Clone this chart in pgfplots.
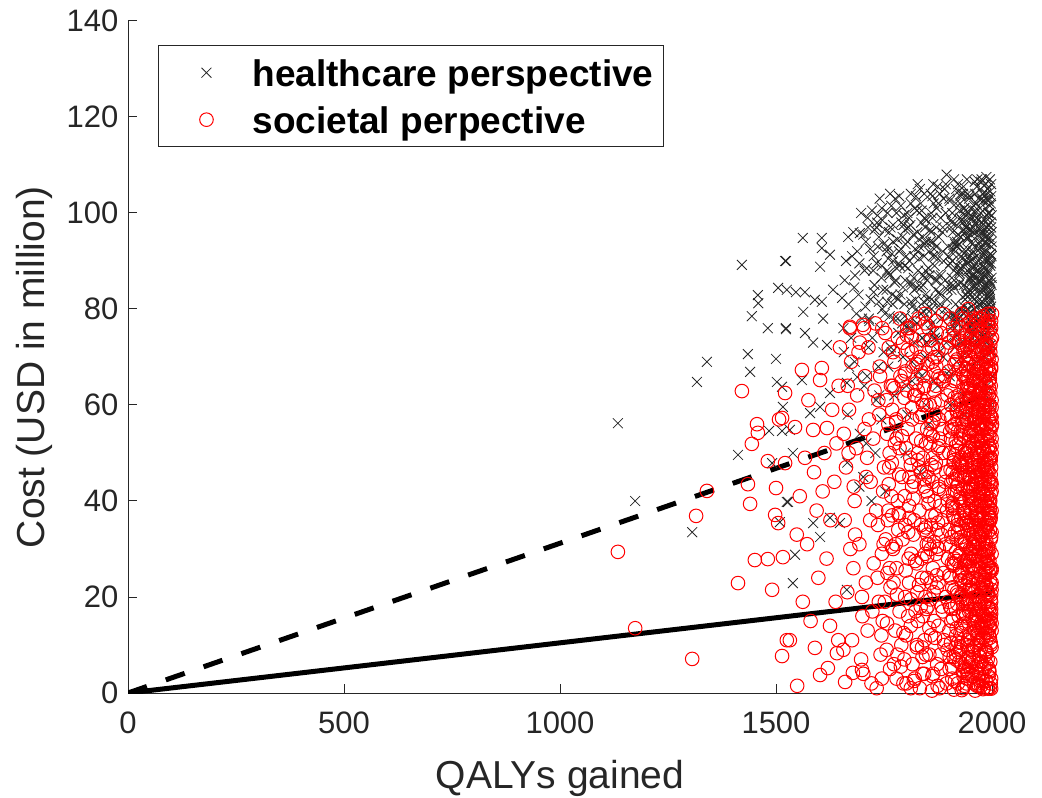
\documentclass[border=0pt]{standalone}
\usepackage{pgfplots}
\pgfplotsset{compat=1.18}
\usepackage{fontspec}
\setmainfont{Liberation Sans}
\definecolor{mgray}{RGB}{38,38,38}
\begin{document}
\begin{tikzpicture}
\begin{axis}[
  at={(64pt,52pt)}, anchor=south west,
  scale only axis, width=432pt, height=336pt,
  xmin=0, xmax=2000, ymin=0, ymax=140,
  xtick={0,500,1000,1500,2000}, ytick={0,20,40,60,80,100,120,140},
  axis x line*=bottom, axis y line*=left,
  axis line style={-, mgray, line width=0.5pt},
  tick align=inside, major tick length=4.3pt,
  tick style={mgray, line width=0.5pt},
  /pgf/number format/assume math mode=true,
  /pgf/number format/1000 sep={},
  tick label style={font=\fontsize{15.5}{18}\selectfont, text=mgray},
  xticklabel shift=5.8pt, yticklabel shift=1.3pt,
  xlabel={QALYs gained}, ylabel={Cost (USD in million)},
  label style={font=\fontsize{19.5}{23}\selectfont, text=mgray},
  xlabel style={at={(axis description cs:0.5,-0.1414)}, anchor=base},
  ylabel style={at={(axis description cs:-0.0961,0.485)}, anchor=base},
  legend cell align=left,
  legend image code/.code={\path[draw=none, fill=none] (0pt,0pt) -- (42pt,0pt); \draw[#1] plot coordinates {(19pt,0pt)};},
  legend style={at={(axis description cs:0.0347,0.964)}, anchor=north west,
    draw=mgray, line width=0.5pt, fill=white,
    inner xsep=5pt, inner ysep=2.5pt, row sep=1.5pt,
    nodes={inner sep=0pt, text height=18pt, text depth=4pt},
    font=\fontsize{18.5}{22}\selectfont\bfseries},
]
% healthcare perspective
\addplot[only marks, mark=x, mark size=3.5pt, black, mark options={line width=0.4pt, black!85}] coordinates {
(1421,89.2)(1521,90)(1505,84.4)(1458,82.9)(1459,81.2)(1444,78.5)(1481,76)(1523,75.8)(1340,69)(1435,70.6)(1500,69.6)(1317,64.8)(1440,66.9)(1502,64.8)(1514,63.8)(1134,56.2)(1484,54.6)(1514,54.6)(1412,49.6)(1491,47.9)(1174,40)(1306,33.5)(1525,39.8)(1509,35.6)
(1562,94.8)(1606,94.8)(1523,90)(1606,92.7)(1602,88.8)(1625,91.3)(1667,95)(1694,95.8)(1713,97)(1734,98)(1525,84)(1546,83.5)(1567,83.5)(1563,79.4)(1523,76)(1567,75)(1590,81.9)(1606,81.5)(1609,78)(1632,84)(1653,82.3)(1586,73)(1618,72.5)
(1539,50)(1528,39.8)(1544,28.8)(1539,22.9)(1586,35.4)(1602,32.5)(1625,36.5)(1648,35.4)(1664,21.5)
(1516,59.6)(1560,65.2)(1532,54.8)(1579,58.3)(1602,59.6)(1625,62.5)(1664,64.6)(1688,65.8)
(1745,101)(1712,99)(1679,96)(1736,93)(1662,90)(1705,88)(1728,85)(1691,83)(1746,80)(1699,78)
(1656,76)(1723,74)(1749,71)(1682,69)(1711,66)(1739,62)(1666,58)(1694,54)(1730,50)(1702,45)
(1733,97)(1676,91)(1708,94)(1745,89)(1659,86)(1719,82)(1686,79)(1741,76)(1714,72)(1669,68)
(1697,100)(1738,95)(1726,91)(1683,87)(1748,84)(1668,81)(1715,78)(1737,68)(1674,74)(1704,64)
(1721,40)(1744,57)(1665,48)(1693,43)(1732,61)(1709,52)(1657,71)(1740,103)(1688,92)(1725,88)
(1702,95.5)(1718,92.5)(1735,99.5)(1752,96.5)(1767,101.5)(1781,94.5)(1796,99.5)(1710,88.5)(1726,83.5)(1744,86.5)
(1760,90.5)(1775,85.5)(1789,92.5)(1693,89.5)(1681,84.5)(1728,96.5)(1757,81.5)(1771,97.5)(1785,103.5)(1799,96.5)
(1707,80.5)(1722,100.5)(1738,81.5)(1749,93.5)(1763,78.5)(1779,88.5)(1794,84.5)(1716,77.5)(1733,89.5)(1746,98.5)
(1811,97.5)(1824,103.5)(1837,100.5)(1806,88.5)(1819,86.5)(1832,90.5)(1845,93.5)(1813,81.5)(1827,84.5)(1842,81.5)
(1843,104)(1812,102)(1779,100)(1836,98)(1762,96)(1805,94)(1828,92)(1771,90)(1846,88)(1799,86)
(1756,84)(1823,82)(1849,80)(1782,78)(1811,76)(1839,74)(1766,72)(1794,70)(1830,67)(1802,64)
(1833,105)(1776,103)(1808,99)(1845,97)(1759,93)(1819,91)(1786,89)(1841,87)(1814,85)(1769,83)
(1797,81)(1752,79)(1826,77)(1783,75)(1848,73)(1768,71)(1815,69)(1837,66)(1774,62)(1804,58)
(1821,101)(1844,99)(1765,97)(1793,95)(1832,93)(1809,90)(1757,88)(1840,85)(1788,83)(1825,80)
(1773,78)(1806,76)(1838,74)(1760,68)(1815,65)(1847,60)(1778,55)(1800,50)(1834,46)(1753,42)
(1847,94)(1790,98)(1827,96)(1771,94)(1843,91)(1798,89)(1763,87)(1820,84)(1782,82)(1835,79)
(1812,104)(1835,102)(1758,100)(1807,97)(1785,92)(1829,88)(1850,86)(1770,81)(1816,78)(1845,70)
(1764,104)(1801,91)(1846,83)(1777,86)(1820,73)(1792,77)(1840,95)(1756,92)(1804,100)(1828,106)
(1942,107)(1917,105)(1888,103)(1936,101)(1862,99)(1905,97)(1928,95)(1871,93)(1946,91)(1899,89)
(1855,87)(1923,85)(1949,83)(1880,81)(1911,79)(1939,77)(1866,75)(1894,73)(1930,70)(1902,66)
(1933,104)(1876,102)(1908,100)(1945,98)(1859,96)(1919,94)(1886,92)(1941,90)(1912,88)(1869,86)
(1897,84)(1851,82)(1926,80)(1883,78)(1948,76)(1868,74)(1914,72)(1937,68)(1874,64)(1903,60)
(1921,106)(1944,104)(1865,102)(1893,100)(1932,98)(1909,96)(1857,94)(1940,92)(1888,90)(1925,88)
(1873,86)(1906,84)(1938,82)(1860,80)(1915,78)(1947,75)(1878,71)(1900,67)(1934,62)(1853,56)
(1947,103)(1890,105)(1927,99)(1871,97)(1943,95)(1898,93)(1863,91)(1920,89)(1882,87)(1935,85)
(1912,107)(1935,101)(1858,104)(1907,98)(1885,96)(1929,91)(1950,88)(1870,84)(1916,81)(1945,79)
(1864,106)(1901,103)(1946,100)(1877,95)(1920,93)(1892,86)(1940,83)(1856,78)(1904,76)(1928,73)
(1939,97)(1881,99)(1913,94)(1950,90)(1867,89)(1924,87)(1896,82)(1944,80)(1861,77)(1910,74)
(1895,108)(1928,104)(1872,101)(1937,96)(1854,92)(1908,90)(1949,86)(1879,83)(1922,78)(1887,70)
(1926,102)(1949,99)(1886,97)(1918,93)(1869,91)(1943,88)(1901,85)(1860,82)(1935,79)(1914,76)
(1879,104)(1916,102)(1940,97)(1863,94)(1899,91)(1932,89)(1875,87)(1948,84)(1891,80)(1921,77)
(1944,95)(1859,100)(1893,106)(1931,92)(1910,85)(1877,80)(1947,73)(1918,69)(1865,65)(1938,58)
(1998,106)(1987,104)(1964,102)(1993,100)(1975,98)(1956,96)(1999,94)(1982,92)(1969,90)(1991,88)
(1971,86)(1995,84)(1958,82)(1984,80)(1997,78)(1962,76)(1979,74)(2000,71)(1953,68)(1988,64)
(1966,107)(1990,105)(1977,103)(1951,101)(1994,99)(1973,97)(1985,95)(1960,93)(1999,91)(1968,89)
(1981,87)(1957,85)(1996,83)(1970,81)(1989,79)(1954,77)(1976,75)(1992,72)(1963,69)(1998,60)
(1986,106)(1961,104)(1974,100)(1997,98)(1952,94)(1983,92)(1967,88)(1994,86)(1978,84)(1959,80)
(1993,103)(1972,101)(1955,99)(1988,97)(1999,96)(1965,91)(1980,89)(1957,87)(1991,83)(1970,78)
(1976,107)(1997,102)(1962,98)(1984,94)(1950,90)(1973,86)(1995,82)(1968,79)(1986,76)(1955,73)
(1990,105)(1966,99)(1979,96)(1999,93)(1958,89)(1987,85)(1971,82)(1996,80)(1953,75)(1982,70)
(1961,100)(1985,101)(1998,97)(1975,93)(1952,87)(1992,90)(1969,84)(1983,77)(1964,73)(2000,66)
(1978,104)(1994,95)(1956,92)(1971,94)(1989,87)(1960,84)(1999,85)(1977,81)(1993,74)(1967,56)
(1995,107)(1973,105)(1988,103)(1963,96)(1980,91)(1996,89)(1954,86)(1972,83)(1998,79)(1984,62)
(1969,103)(1991,100)(1957,97)(1985,90)(1966,88)(1979,86)(1993,81)(1959,78)(1987,73)(1975,65)
(1996,104.5)(1958,101.5)(1983,98.5)(1921,95.5)(1972,92.5)(1993,89.5)(1907,86.5)(1946,83.5)(1988,80.5)(1964,77.5)
(1934,105.5)(1979,102.5)(1999,99.5)(1952,96.5)(1915,93.5)(1986,90.5)(1968,87.5)(1941,84.5)(1995,81.5)(1899,78.5)
(1975,106.5)(1927,103.5)(1961,100.5)(1990,97.5)(1943,94.5)(1910,91.5)(1982,88.5)(1997,85.5)(1955,82.5)(1930,79.5)
(1902,102.5)(1989,99.5)(1948,96.5)(1970,93.5)(1994,90.5)(1924,87.5)(1959,84.5)(1978,81.5)(1913,78.5)(1991,75.5)
(1965,105.5)(1938,100.5)(1992,94.5)(1918,97.5)(1981,91.5)(1956,88.5)(1999,86.5)(1932,82.5)(1973,79.5)(1950,76.5)
(1987,107.5)(1905,98.5)(1969,95.5)(1944,92.5)(1998,89.5)(1926,85.5)(1976,83.5)(1953,80.5)(1985,77.5)(1919,74.5)
(1947,103.5)(1995,101.5)(1931,98.5)(1977,95.5)(1957,90.5)(1990,87.5)(1912,84.5)(1966,81.5)(1940,78.5)(1997,72.5)
(1922,104.5)(1962,97.5)(1986,93.5)(1903,89.5)(1949,86.5)(1980,84.5)(1935,80.5)(1999,76.5)(1958,74.5)(1974,71.5)
(1991,102.5)(1939,99.5)(1973,96.5)(1954,91.5)(1928,88.5)(1995,83.5)(1967,80.5)(1916,77.5)(1983,73.5)(1945,70.5)
(1960,106.5)(1998,103.5)(1925,100.5)(1984,96.5)(1909,92.5)(1971,90.5)(1951,86.5)(1993,82.5)(1937,79.5)(1979,74.5)
(1862,103.5)(1795,97.5)(1831,94.5)(1768,91.5)(1853,88.5)(1812,85.5)(1778,82.5)(1842,79.5)(1805,76.5)(1870,73.5)
(1789,101.5)(1848,98.5)(1822,92.5)(1875,90.5)(1761,87.5)(1836,84.5)(1867,81.5)(1798,78.5)(1858,75.5)(1818,95.5)
(1874,105.5)(1826,100.5)(1857,96.5)(1800,93.5)(1866,92.5)(1784,89.5)(1844,86.5)(1878,83.5)(1815,80.5)(1851,77.5)
(1982,95.5)(1954,93.5)(1996,91.5)(1931,90.5)(1970,85.5)(1990,84.5)(1943,82.5)(1985,79.5)(1960,78.5)(1998,80.5)
(1968,98.5)(1935,96.5)(1992,93.5)(1950,95.5)(1979,87.5)(1923,93.5)(1997,91.5)(1963,86.5)(1941,89.5)(1988,85.5)
};
\addlegendentry{healthcare perspective}
% societal perspective
\addplot[only marks, mark=o, mark size=3.4pt, red, mark options={line width=0.5pt, red}] coordinates {
(1421,62.9)(1521,62.5)(1507,57)(1456,56)(1458,54.2)(1444,51.9)(1481,48.3)(1521,47.9)(1340,42.1)(1435,43.5)(1500,42.7)(1440,39.4)(1315,36.9)(1498,37.1)(1505,35.4)(1134,29.4)(1451,27.7)(1481,27.9)(1516,28.3)(1412,22.9)(1491,21.5)(1174,13.5)(1306,7.1)(1514,7.7)(1525,11)
(1560,67.3)(1606,67.7)(1602,65.2)(1514,57.3)(1544,55.4)(1586,54.8)(1618,55.2)(1549,1.5)(1532,11)(1590,9.4)(1602,3.75)(1620,5.2)(1641,8.3)(1644,11)(1648,72)(1671,76.3)(1701,76.7)(1660,2.3)(1678,4.2)(1699,4.8)
(1555,41)(1572,31)(1588,46)(1598,24)(1626,36)(1612,50)(1638,19)(1562,19)(1580,15)(1635,44)(1617,28)(1548,33)(1594,38)(1630,59)(1575,61)(1645,64)(1625,14)(1567,49)(1608,42)(1640,52)
(1745,3)(1712,13)(1679,26)(1736,35)(1662,47)(1705,55)(1728,63)(1691,71)(1746,76)(1699,20)
(1656,9)(1723,17)(1749,31)(1682,40)(1711,49)(1739,58)(1666,64)(1694,73)(1730,77)(1702,4)
(1733,1)(1676,11)(1708,23)(1745,29)(1659,36)(1719,44)(1686,51)(1741,66)(1714,72)(1669,59)
(1697,7)(1738,19)(1726,27)(1683,33)(1748,42)(1668,50)(1715,57)(1737,61)(1674,69)(1704,76)
(1721,2)(1744,12)(1665,21)(1693,31)(1732,38)(1709,45)(1657,54)(1740,68)(1688,62)(1725,53)
(1742,8)(1700,16)(1672,30)(1718,36)(1750,47)(1680,43)(1735,24)(1706,66)(1671,76)(1747,15)
(1843,4)(1812,14)(1779,26)(1836,35)(1762,47)(1805,55)(1828,63)(1771,71)(1846,77)(1799,20)
(1756,9)(1823,17)(1849,31)(1782,40)(1811,49)(1839,58)(1766,64)(1794,73)(1830,78)(1802,2)
(1833,1)(1776,13)(1808,23)(1845,29)(1759,36)(1819,44)(1786,51)(1841,66)(1814,74)(1769,59)
(1797,7)(1752,19)(1826,27)(1783,34)(1848,42)(1768,48)(1815,57)(1837,61)(1774,69)(1804,76)
(1821,3)(1844,11)(1765,22)(1793,32)(1832,38)(1809,45)(1757,54)(1840,60)(1788,66)(1825,72)
(1773,6)(1806,16)(1838,24)(1760,38)(1815,43)(1847,52)(1778,57)(1800,67)(1834,70)(1753,75)
(1847,8)(1790,10)(1827,21)(1771,30)(1843,34)(1798,41)(1763,50)(1820,62)(1782,74)(1835,46)
(1812,1)(1835,18)(1758,25)(1807,28)(1785,37)(1829,50)(1850,55)(1770,64)(1816,68)(1845,79)
(1764,5)(1801,12)(1846,20)(1777,31)(1820,36)(1792,45)(1840,49)(1756,61)(1804,63)(1828,69)
(1839,4)(1781,8)(1813,29)(1850,33)(1767,41)(1824,53)(1796,58)(1844,64)(1761,72)(1810,76)
(1795,2)(1828,15)(1772,23)(1837,28)(1754,32)(1808,39)(1849,46)(1779,53)(1822,62)(1787,78)
(1826,10)(1786,17)(1818,33)(1769,37)(1843,43)(1801,51)(1760,56)(1835,67)(1814,71)(1849,24)
(1779,3)(1816,6)(1840,16)(1763,26)(1799,35)(1832,47)(1775,52)(1848,60)(1791,65)(1821,77)
(1862,3.5)(1795,12.5)(1831,22.5)(1768,30.5)(1853,39.5)(1812,47.5)(1778,56.5)(1842,63.5)(1805,71.5)(1870,77.5)
(1789,5.5)(1848,17.5)(1822,27.5)(1875,35.5)(1761,43.5)(1836,52.5)(1867,60.5)(1798,66.5)(1858,73.5)(1818,40.5)
(1874,1.5)(1826,9.5)(1857,19.5)(1800,25.5)(1866,31.5)(1784,37.5)(1844,44.5)(1878,51.5)(1815,59.5)(1851,68.5)
(1757,14.5)(1839,7.5)(1806,33.5)(1872,24.5)(1828,48.5)(1792,53.5)(1864,56.5)(1841,73.5)(1774,63.5)(1879,65.5)
(1819,2.5)(1868,11.5)(1780,20.5)(1850,28.5)(1809,36.5)(1877,42.5)(1833,57.5)(1797,61.5)(1860,47.5)(1825,68.5)
(1855,13.5)(1812,19.5)(1873,30.5)(1785,45.5)(1847,34.5)(1863,53.5)(1824,64.5)(1876,71.5)(1803,74.5)(1838,9.5)
(1942,3)(1917,12)(1888,25)(1936,36)(1862,44)(1905,53)(1928,60)(1871,68)(1946,77)(1899,19)
(1855,8)(1923,16)(1949,30)(1880,39)(1911,48)(1939,57)(1866,63)(1894,72)(1930,79)(1902,5)
(1933,1)(1876,14)(1908,22)(1945,28)(1859,35)(1919,43)(1886,50)(1941,66)(1912,74)(1869,58)
(1897,9)(1851,18)(1926,26)(1883,33)(1948,41)(1868,47)(1914,56)(1937,62)(1874,70)(1903,78)
(1921,2)(1944,11)(1865,21)(1893,31)(1932,38)(1909,46)(1857,54)(1940,59)(1888,65)(1925,73)
(1873,6)(1906,15)(1938,24)(1860,37)(1915,42)(1947,51)(1878,57)(1900,67)(1934,71)(1853,76)
(1947,7)(1890,10)(1927,20)(1871,29)(1943,34)(1898,40)(1863,49)(1920,61)(1882,75)(1935,45)
(1912,0.7)(1935,17)(1858,23)(1907,27)(1885,36)(1929,49)(1950,55)(1870,64)(1916,69)(1945,80)
(1864,4)(1901,13)(1946,19)(1877,30)(1920,35)(1892,44)(1940,48)(1856,60)(1904,63)(1928,68)
(1939,5)(1881,8)(1913,28)(1950,33)(1867,40)(1924,52)(1896,58)(1944,64)(1861,72)(1910,76)
(1895,2)(1928,14)(1872,22)(1937,27)(1854,31)(1908,39)(1949,45)(1879,53)(1922,62)(1887,79)
(1926,9)(1949,22)(1886,17)(1918,32)(1869,37)(1943,42)(1901,50)(1860,56)(1935,66)(1914,71)
(1879,1)(1916,7)(1940,16)(1863,26)(1899,34)(1932,47)(1875,51)(1948,61)(1891,66)(1921,77)
(1944,4)(1859,12)(1893,20)(1931,25)(1910,37)(1877,43)(1947,54)(1918,59)(1865,67)(1938,74)
(1908,3)(1942,10)(1884,18)(1925,29)(1852,41)(1936,38)(1894,46)(1911,55)(1949,70)(1872,75)
(1930,6)(1866,15)(1904,24)(1946,35)(1889,42)(1923,48)(1857,52)(1941,57)(1897,62)(1933,78)
(1861,0.5)(1934,13)(1919,21)(1874,34)(1948,39)(1906,44)(1928,53)(1883,61)(1945,67)(1900,73)
(1917,8)(1889,11)(1950,26)(1858,30)(1927,40)(1870,48)(1939,50)(1905,60)(1876,66)(1943,72)
(1882,5)(1947,17)(1912,27)(1937,31)(1896,38)(1853,45)(1920,57)(1948,63)(1868,70)(1929,76)
(1941,2)(1903,18)(1876,23)(1922,36)(1944,43)(1885,55)(1913,65)(1862,69)(1950,74)(1898,28)
(1998,3)(1987,11)(1964,24)(1993,37)(1975,45)(1956,52)(1999,61)(1982,70)(1969,78)(1991,18)
(1971,6)(1995,14)(1958,31)(1984,40)(1997,49)(1962,57)(1979,66)(2000,74)(1953,9)(1988,27)
(1966,2)(1990,21)(1977,33)(1951,43)(1994,55)(1973,63)(1985,72)(1960,15)(1999,29)(1968,48)
(1981,1)(1957,19)(1996,26)(1970,36)(1989,47)(1954,60)(1976,68)(1992,77)(1963,39)(1998,44)
(1986,8)(1961,13)(1974,22)(1997,32)(1952,41)(1983,53)(1967,59)(1994,67)(1978,75)(1959,71)
(1993,5)(1972,17)(1955,28)(1988,35)(1999,42)(1965,50)(1980,58)(1957,65)(1991,79)(1970,30)
(1976,4)(1997,10)(1962,20)(1984,25)(1950,34)(1973,46)(1995,51)(1968,62)(1986,69)(1955,76)
(1990,7)(1966,12)(1979,23)(1999,38)(1958,47)(1987,56)(1971,64)(1996,71)(1953,73)(1982,16)
(1961,0.5)(1985,9)(1998,19)(1975,27)(1952,38)(1992,44)(1969,54)(1983,61)(1964,69)(2000,56)
(1978,3)(1994,15)(1956,24)(1971,33)(1989,39)(1960,48)(1999,53)(1977,60)(1993,65)(1967,74)
(1995,1)(1973,11)(1988,22)(1963,35)(1980,43)(1996,49)(1954,58)(1972,67)(1998,76)(1984,31)
(1969,8)(1991,18)(1957,26)(1985,30)(1966,41)(1979,52)(1993,57)(1959,63)(1987,70)(1975,78)
(1983,5)(1999,13)(1968,20)(1952,29)(1995,34)(1974,40)(1961,45)(1989,54)(1970,59)(1997,64)
(1958,2)(1976,14)(1992,25)(1965,37)(1981,47)(1999,50)(1955,55)(1984,66)(1962,72)(1990,75)
(1987,6)(1963,16)(1980,29)(1996,36)(1971,42)(1954,49)(1993,62)(1977,71)(2000,79)(1967,53)
(1997,2)(1974,9)(1958,21)(1990,28)(1982,34)(1965,44)(1998,47)(1975,56)(1951,64)(1986,73)
(1970,4)(1993,12)(1984,19)(1961,32)(1996,40)(1977,51)(1966,57)(1991,68)(1980,72)(1957,78)
(1989,1)(1956,7)(1972,18)(1999,23)(1978,38)(1963,43)(1987,48)(1995,58)(1969,65)(1983,77)
(1964,10)(1981,15)(1994,30)(1953,36)(1975,39)(1992,46)(1960,51)(1988,60)(1972,63)(1998,68)
(1979,0.8)(1997,17)(1967,23)(1985,27)(1959,46)(1976,55)(1994,60)(1966,67)(1990,72)(1999,26)
(1996,6.5)(1958,13.5)(1983,24.5)(1921,33.5)(1972,41.5)(1993,48.5)(1907,55.5)(1946,63.5)(1988,70.5)(1964,77.5)
(1934,3.5)(1979,16.5)(1999,21.5)(1952,29.5)(1915,38.5)(1986,45.5)(1968,52.5)(1941,59.5)(1995,66.5)(1899,74.5)
(1975,1.5)(1927,9.5)(1961,18.5)(1990,26.5)(1943,35.5)(1910,44.5)(1982,50.5)(1997,57.5)(1955,65.5)(1930,72.5)
(1902,7.5)(1989,12.5)(1948,23.5)(1970,31.5)(1994,39.5)(1924,47.5)(1959,54.5)(1978,61.5)(1913,68.5)(1991,76.5)
(1965,4.5)(1938,14.5)(1992,20.5)(1918,27.5)(1981,36.5)(1956,43.5)(1999,51.5)(1932,58.5)(1973,64.5)(1950,71.5)
(1987,2.5)(1905,10.5)(1969,17.5)(1944,25.5)(1998,32.5)(1926,40.5)(1976,46.5)(1953,56.5)(1985,62.5)(1919,69.5)
(1947,5.5)(1995,11.5)(1931,19.5)(1977,28.5)(1957,34.5)(1990,42.5)(1912,49.5)(1966,60.5)(1940,67.5)(1997,73.5)
(1922,8.5)(1962,15.5)(1986,22.5)(1903,30.5)(1949,37.5)(1980,41.5)(1935,53.5)(1999,59.5)(1958,66.5)(1974,75.5)
(1991,0.9)(1939,6.5)(1973,13.5)(1954,22.5)(1928,31.5)(1995,38.5)(1967,45.5)(1916,52.5)(1983,58.5)(1945,70.5)
(1960,9.5)(1998,16.5)(1925,24.5)(1984,33.5)(1909,39.5)(1971,47.5)(1951,54.5)(1993,63.5)(1937,71.5)(1979,78.5)
(1914,2.5)(1967,11.5)(1989,20.5)(1942,27.5)(1976,36.5)(1999,43.5)(1920,50.5)(1961,57.5)(1986,64.5)(1954,74.5)
(1982,5.5)(1950,12.5)(1906,17.5)(1996,25.5)(1963,33.5)(1933,42.5)(1988,49.5)(1972,55.5)(1947,61.5)(1992,69.5)
(1957,3.5)(1985,8.5)(1940,18.5)(1970,23.5)(1917,29.5)(1993,35.5)(1952,44.5)(1980,53.5)(1929,60.5)(1998,67.5)
(1936,1.5)(1974,14.5)(1997,19.5)(1911,26.5)(1959,35.5)(1987,41.5)(1944,48.5)(1968,55.5)(1990,62.5)(1923,73.5)
(1994,4.5)(1929,10.5)(1964,16.5)(1983,29.5)(1948,40.5)(1904,46.5)(1975,52.5)(1999,57.5)(1939,65.5)(1961,76.5)
(1971,7.5)(1918,13.5)(1952,21.5)(1990,30.5)(1937,37.5)(1966,43.5)(1996,54.5)(1913,61.5)(1981,68.5)(1948,72.5)
(1908,5.5)(1989,15.5)(1935,22.5)(1963,28.5)(1997,36.5)(1926,45.5)(1955,51.5)(1984,59.5)(1942,63.5)(1969,70.5)
(1978,2.5)(1945,9.5)(1999,14.5)(1921,20.5)(1953,26.5)(1986,34.5)(1910,41.5)(1967,48.5)(1995,56.5)(1932,66.5)
(1951,6.5)(1984,12.5)(1927,23.5)(1974,32.5)(1996,37.5)(1942,46.5)(1989,52.5)(1919,58.5)(1962,68.5)(1991,77.5)
(1992,3.5)(1966,10.5)(1941,19.5)(1901,24.5)(1979,31.5)(1958,39.5)(1930,47.5)(1994,53.5)(1971,60.5)(1915,65.5)
(1930,0.6)(1972,7.5)(1955,15.5)(1998,22.5)(1923,28.5)(1968,36.5)(1992,44.5)(1944,50.5)(1977,57.5)(1957,64.5)
(1999,9.5)(1940,16.5)(1985,25.5)(1914,33.5)(1962,38.5)(1936,44.5)(1981,47.5)(1905,57.5)(1995,65.5)(1973,71.5)
(1963,5.5)(1927,12.5)(1993,17.5)(1949,27.5)(1988,35.5)(1969,41.5)(1917,51.5)(1958,56.5)(1985,61.5)(1938,74.5)
(1985,2.5)(1911,7.5)(1977,21.5)(1960,30.5)(1934,39.5)(1997,45.5)(1951,49.5)(1975,63.5)(1924,67.5)(1996,72.5)
(1943,4.5)(1994,13.5)(1920,18.5)(1976,24.5)(1955,32.5)(1989,40.5)(1928,54.5)(1963,58.5)(1999,69.5)(1950,75.5)
(1969,1.5)(1956,8.5)(1987,16.5)(1938,21.5)(1994,27.5)(1912,36.5)(1974,43.5)(1947,52.5)(1983,60.5)(1966,67.5)
(1924,6.5)(1997,10.5)(1959,14.5)(1982,23.5)(1906,32.5)(1953,39.5)(1990,46.5)(1934,55.5)(1970,62.5)(1940,69.5)
(1988,8.5)(1933,4.5)(1971,19.5)(1946,26.5)(1999,33.5)(1965,37.5)(1922,43.5)(1980,50.5)(1952,59.5)(1995,75.5)
(1953,3.5)(1980,11.5)(1910,15.5)(1964,25.5)(1987,31.5)(1940,35.5)(1997,41.5)(1957,47.5)(1931,56.5)(1978,66.5)
(1998,0.9)(1946,7.5)(1967,12.5)(1929,20.5)(1992,26.5)(1973,34.5)(1908,38.5)(1984,44.5)(1962,53.5)(1941,61.5)
(1916,9.5)(1990,14.5)(1944,18.5)(1979,22.5)(1958,28.5)(1925,34.5)(1995,40.5)(1968,46.5)(1937,50.5)(1987,55.5)
(1973,2.5)(1937,5.5)(1998,17.5)(1954,21.5)(1931,25.5)(1991,29.5)(1975,33.5)(1949,42.5)(1912,48.5)(1965,52.5)
(1959,17.5)(1986,21.5)(1929,32.5)(1992,37.5)(1970,39.5)(1945,45.5)(1997,48.5)(1921,54.5)(1979,56.5)(1952,61.5)
(1995,23.5)(1966,27.5)(1940,30.5)(1983,39.5)(1957,42.5)(1919,45.5)(1988,47.5)(1972,49.5)(1947,53.5)(1999,55.5)
(1933,16.5)(1981,18.5)(1961,34.5)(1994,36.5)(1927,41.5)(1976,44.5)(1954,47.5)(1991,50.5)(1903,54.5)(1968,58.5)
(1985,13.5)(1948,19.5)(1999,25.5)(1971,29.5)(1937,31.5)(1962,36.5)(1996,43.5)(1942,57.5)(1979,59.5)(1955,62.5)
(1975,6.5)(1913,21.5)(1989,28.5)(1956,30.5)(1982,38.5)(1927,48.5)(1964,49.5)(1993,51.5)(1938,58.5)(1986,67.5)
(1949,11.5)(1997,15.5)(1968,26.5)(1935,27.5)(1990,33.5)(1959,40.5)(1983,42.5)(1916,44.5)(1974,51.5)(1994,59.5)
(1965,1.5)(1993,4.5)(1922,10.5)(1978,13.5)(1952,17.5)(1998,20.5)(1945,23.5)(1987,29.5)(1961,31.5)(1929,36.5)
(1981,57.5)(1957,60.5)(1996,62.5)(1934,64.5)(1973,65.5)(1992,70.5)(1944,68.5)(1984,72.5)(1960,73.5)(1998,77.5)
};
\addlegendentry{societal perpective}
\addplot[black, line width=2.5pt, dash pattern=on 10pt off 10pt, forget plot] coordinates {(0,0)(2000,62.4)};
\addplot[black, line width=2.5pt, forget plot] coordinates {(0,0)(2000,20.9)};
\end{axis}
\pgfresetboundingbox
\useasboundingbox (0,0) rectangle (521pt,398.5pt);
\end{tikzpicture}
\end{document}
